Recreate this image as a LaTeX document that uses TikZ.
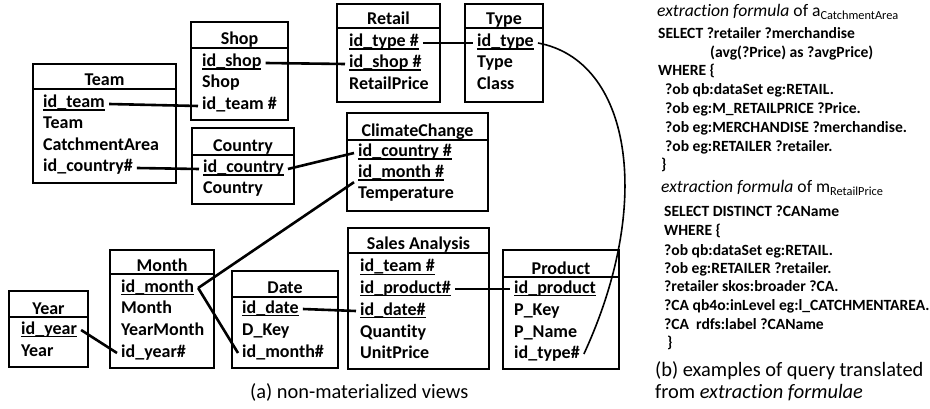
\documentclass[tikz,border=0pt]{standalone}
\usepackage{fontspec}
\setmainfont{Carlito}[Ligatures=CommonOff]
\newcommand{\keyfld}[1]{\setbox0\hbox{#1}\rlap{\vrule height -1.5pt depth 3pt width \wd0}\box0}
\begin{document}
\begin{tikzpicture}[x=1pt,y=-1pt,
	tbl/.style={line width=2.6pt},
	lnk/.style={line width=2.6pt},
	hd/.style={anchor=base,inner sep=0pt,font=\bfseries\fontsize{18}{21}\selectfont},
	fld/.style={anchor=base west,inner xsep=4pt,inner ysep=0pt,text height=12pt,text depth=4pt,font=\bfseries\fontsize{18}{21}\selectfont},
	code/.style={anchor=base west,inner sep=0pt,font=\bfseries\fontsize{15.6}{18}\selectfont},
	qtitle/.style={anchor=base west,inner sep=0pt,font=\fontsize{17.6}{20}\selectfont},
	capt/.style={anchor=base west,inner sep=0pt,font=\fontsize{20.4}{23}\selectfont}]
	\useasboundingbox (0,0) rectangle (930,409);
	\draw [tbl] (33,64) rectangle (176,183);
	\draw [tbl] (33,89) -- (176,89);
	\node [hd] (tm-t) at (104.5,86) {Team};
	\node [fld] (tm-id) at (39,108) {\keyfld{id\_team}};
	\node [fld] (tm-nm) at (39,129) {Team};
	\node [fld] (tm-ca) at (39,151) {CatchmentArea};
	\node [fld] (tm-cty) at (39,172) {id\_country\#};
	\draw [tbl] (191,22) rectangle (288,120);
	\draw [tbl] (191,48) -- (288,48);
	\node [hd] (sh-t) at (239.5,45) {Shop};
	\node [fld] (sh-id) at (198,67) {\keyfld{id\_shop}};
	\node [fld] (sh-nm) at (198,88) {Shop};
	\node [fld] (sh-team) at (198,110) {id\_team \#};
	\draw [tbl] (192,128) rectangle (294,204);
	\draw [tbl] (192,155) -- (294,155);
	\node [hd] (co-t) at (243,152) {Country};
	\node [fld] (co-id) at (199,173) {\keyfld{id\_country}};
	\node [fld] (co-nm) at (199,194) {Country};
	\draw [tbl] (347,113) rectangle (488,211);
	\draw [tbl] (347,140) -- (488,140);
	\node [hd] (cc-t) at (417.5,137) {ClimateChange};
	\node [fld] (cc-cty) at (354,157) {\keyfld{id\_country \#}};
	\node [fld] (cc-mon) at (354,178) {\keyfld{id\_month \#}};
	\node [fld] (cc-tmp) at (354,199) {Temperature};
	\draw [tbl] (337,4) rectangle (440,102);
	\draw [tbl] (337,28) -- (440,28);
	\node [hd] (re-t) at (388.5,25) {Retail};
	\node [fld] (re-type) at (345,47) {\keyfld{id\_type \#}};
	\node [fld] (re-shop) at (345,68) {\keyfld{id\_shop \#}};
	\node [fld] (re-pr) at (345,90) {RetailPrice};
	\draw [tbl] (465,4) rectangle (543,102);
	\draw [tbl] (465,28) -- (543,28);
	\node [hd] (ty-t) at (504,25) {Type};
	\node [fld] (ty-id) at (473,47) {\keyfld{id\_type}};
	\node [fld] (ty-nm) at (473,68) {Type};
	\node [fld] (ty-cl) at (473,90) {Class};
	\draw [tbl] (110,250) rectangle (214,368);
	\draw [tbl] (110,274) -- (214,274);
	\node [hd] (mo-t) at (162,271) {Month};
	\node [fld] (mo-id) at (117,292) {\keyfld{id\_month}};
	\node [fld] (mo-nm) at (117,313) {Month};
	\node [fld] (mo-ym) at (117,335) {YearMonth};
	\node [fld] (mo-year) at (117,357) {id\_year\#};
	\draw [tbl] (9,291) rectangle (88,367);
	\draw [tbl] (9,317) -- (88,317);
	\node [hd] (ye-t) at (48.5,314) {Year};
	\node [fld] (ye-id) at (17,334) {\keyfld{id\_year}};
	\node [fld] (ye-nm) at (17,356) {Year};
	\draw [tbl] (232,271) rectangle (338,368);
	\draw [tbl] (232,297) -- (338,297);
	\node [hd] (da-t) at (285,294) {Date};
	\node [fld] (da-id) at (238,313) {\keyfld{id\_date}};
	\node [fld] (da-key) at (238,335) {D\_Key};
	\node [fld] (da-mon) at (238,357) {id\_month\#};
	\draw [tbl] (348,228) rectangle (489,369);
	\draw [tbl] (348,253) -- (489,253);
	\node [hd] (sa-t) at (418.5,250) {Sales Analysis};
	\node [fld] (sa-team) at (356,272) {\keyfld{id\_team \#}};
	\node [fld] (sa-prod) at (356,293) {\keyfld{id\_product\#}};
	\node [fld] (sa-date) at (356,315) {\keyfld{id\_date\#}};
	\node [fld] (sa-qty) at (356,337) {Quantity};
	\node [fld] (sa-up) at (356,358) {UnitPrice};
	\draw [tbl] (503,250) rectangle (619,369);
	\draw [tbl] (503,277) -- (619,277);
	\node [hd] (pr-t) at (561,274) {Product};
	\node [fld] (pr-id) at (510,293) {\keyfld{id\_product}};
	\node [fld] (pr-key) at (510,315) {P\_Key};
	\node [fld] (pr-nm) at (510,337) {P\_Name};
	\node [fld] (pr-type) at (510,358) {id\_type\#};
	\draw [lnk] (tm-id.east) -- (sh-team.west);
	\draw [lnk] (tm-cty.east) -- (co-id.west);
	\draw [lnk] (sh-id.east) -- (re-shop.west);
	\draw [lnk] (re-type.east) -- (ty-id.west);
	\draw [lnk] (co-id.east) -- (cc-cty.west);
	\draw [lnk] (mo-id.east) -- (cc-mon.south west);
	\draw [lnk] (mo-id.east) -- (da-mon.west);
	\draw [lnk] (ye-id.east) -- (mo-year.west);
	\draw [lnk] (da-id.east) -- (sa-date.west);
	\draw [lnk] (sa-prod.east) -- (pr-id.west);
	\draw [line width=1.6pt] (ty-id.east) .. controls (630,60) and (655,200) .. (pr-type.east);
	\node [capt] (cap-a) at (250,398) {(a) non-materialized views};
	\node [qtitle] (q1-t) at (657,17) {\textit{extraction formula} of a\textsubscript{CatchmentArea}};
	\node [code] (q1-1) at (658,39) {SELECT ?retailer ?merchandise};
	\node [code] (q1-2) at (710,57.5) {(avg(?Price) as ?avgPrice)};
	\node [code] (q1-3) at (658,76) {WHERE \{};
	\node [code] (q1-4) at (665,95) {?ob qb:dataSet eg:RETAIL.};
	\node [code] (q1-5) at (665,114) {?ob eg:M\_RETAILPRICE ?Price.};
	\node [code] (q1-6) at (665,133) {?ob eg:MERCHANDISE ?merchandise.};
	\node [code] (q1-7) at (665,152) {?ob eg:RETAILER ?retailer.};
	\node [code] (q1-8) at (661,170) {\}};
	\node [qtitle] (q2-t) at (661,193) {\textit{extraction formula} of m\textsubscript{RetailPrice}};
	\node [code] (q2-1) at (664,217) {SELECT DISTINCT ?CAName};
	\node [code] (q2-2) at (664,236) {WHERE \{};
	\node [code] (q2-3) at (664,255) {?ob qb:dataSet eg:RETAIL.};
	\node [code] (q2-4) at (664,273) {?ob eg:RETAILER ?retailer.};
	\node [code] (q2-5) at (664,291) {?retailer skos:broader ?CA.};
	\node [code] (q2-6) at (664,310) {?CA qb4o:inLevel eg:l\_CATCHMENTAREA.};
	\node [code] (q2-7) at (664,329) {?CA\ \ rdfs:label ?CAName};
	\node [code] (q2-8) at (667,347) {\}};
	\node [capt] (cap-b1) at (655,376) {(b) examples of query translated};
	\node [capt] (cap-b2) at (655,398) {from \textit{extraction formulae}};
\end{tikzpicture}
\end{document}
